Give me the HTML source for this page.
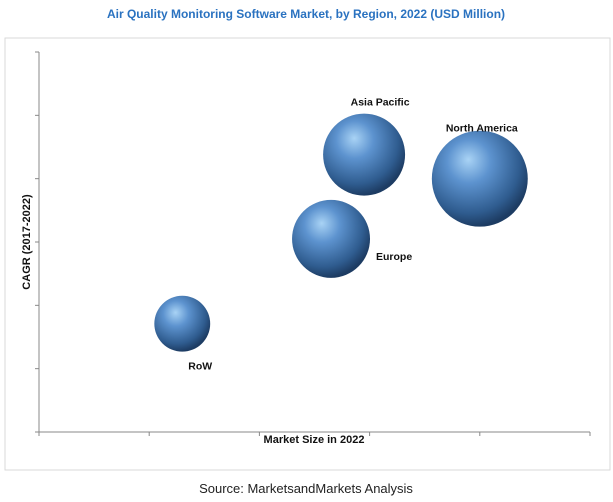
<!DOCTYPE html>
<html><head><meta charset="utf-8"><style>
html,body{margin:0;padding:0;background:#fff;width:613px;height:502px;overflow:hidden;font-family:"Liberation Sans",sans-serif}
</style></head><body>
<svg width="613" height="502">
<defs>
<radialGradient id="g" cx="0.4" cy="0.35" r="0.65" fx="0.38" fy="0.3">
<stop offset="0" stop-color="#a9d3f5"/><stop offset="0.35" stop-color="#5d93cf"/><stop offset="0.8" stop-color="#2f5c8f"/><stop offset="1" stop-color="#1d3c63"/>
</radialGradient>
</defs>
<text x="306" y="18" text-anchor="middle" font-size="12" font-weight="bold" fill="#2a72c0">Air Quality Monitoring Software Market, by Region, 2022 (USD Million)</text>
<rect x="5" y="38" width="605" height="432" fill="none" stroke="#d9d9d9"/>
<g id="axes" stroke="#888" stroke-width="1"></g>
<g id="bubbles"></g>
<text transform="translate(30,242) rotate(-90)" text-anchor="middle" font-size="11" font-weight="bold" fill="#111">CAGR (2017-2022)</text>
<text x="314" y="443" text-anchor="middle" font-size="11" font-weight="bold" fill="#111">Market Size in 2022</text>
<text x="306" y="493" text-anchor="middle" font-size="13" fill="#222">Source: MarketsandMarkets Analysis</text>
</svg>
<script>
const regions=["Asia Pacific","North America","Europe","RoW"];
const marketSize=[2.95,4.0,2.65,1.30];
const cagr=[4.38,4.0,3.05,1.71];
const bubbleSize=[168,230,152,78];
const xTicks=[0,1,2,3,4,5];
const yTicks=[0,1,2,3,4,5,6];
const X0=39,X1=590,Y0=432,Y1=52;
const xs=v=>X0+v/5*(X1-X0);
const ys=v=>Y0-v/6*(Y0-Y1);
const rs=s=>Math.sqrt(s*10);
const NS="http://www.w3.org/2000/svg";
const ax=document.getElementById('axes');
function ln(x1,y1,x2,y2,name){const l=document.createElementNS(NS,'line');l.setAttribute('x1',x1);l.setAttribute('y1',y1);l.setAttribute('x2',x2);l.setAttribute('y2',y2);


ax.appendChild(l);}
ln(X0,Y1,X0,Y0,'y-axis-line');ln(X0,Y0,X1,Y0,'x-axis-line');
xTicks.forEach(t=>ln(xs(t),Y0,xs(t),Y0+4,'x-tick'));
yTicks.forEach(t=>ln(X0-4,ys(t),X0,ys(t),'y-tick'));
const bg=document.getElementById('bubbles');
const lab=[[16,-49,'middle'],[2,-47,'middle'],[45,21,'start'],[18,46,'middle']];
regions.forEach((r,i)=>{
const c=document.createElementNS(NS,'circle');
c.setAttribute('cx',xs(marketSize[i]));c.setAttribute('cy',ys(cagr[i]));c.setAttribute('r',rs(bubbleSize[i]));c.setAttribute('fill','url(#g)');


bg.appendChild(c);
const t=document.createElementNS(NS,'text');
t.setAttribute('x',xs(marketSize[i])+lab[i][0]);t.setAttribute('y',ys(cagr[i])+lab[i][1]);t.setAttribute('text-anchor',lab[i][2]);
t.setAttribute('font-size','10.5');t.setAttribute('font-weight','bold');t.setAttribute('fill','#111');
t.textContent=r;


bg.appendChild(t);
});
</script>
</body></html>
